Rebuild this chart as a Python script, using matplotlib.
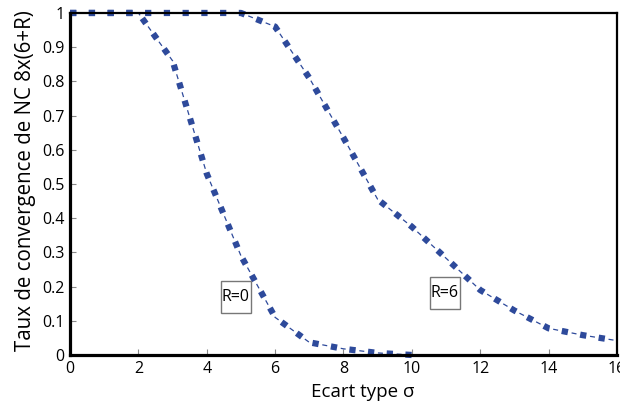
import matplotlib
matplotlib.use("Agg")
import matplotlib.pyplot as plt
from matplotlib.patches import Rectangle

plt.rcParams['font.family'] = ['Open Sans', 'DejaVu Sans']
plt.rcParams['lines.scale_dashes'] = False

sigma_r0 = [0, 1, 2, 3, 4, 5, 6, 7, 8, 9, 10]
rate_r0 = [1.0, 1.0, 1.0, 0.86, 0.53, 0.29, 0.11, 0.037, 0.018, 0.006, 0.0]
sigma_r6 = [0, 1, 2, 3, 4, 5, 6, 7, 8, 9, 10, 11, 12, 13, 14, 15, 16]
rate_r6 = [1.0, 1.0, 1.0, 1.0, 1.0, 1.0, 0.96, 0.81, 0.635, 0.455, 0.375,
           0.283, 0.19, 0.13, 0.078, 0.058, 0.042]
labels = ["R=0", "R=6"]
label_pos = [(4.85, 0.17), (10.96, 0.18)]

xticks = [0, 2, 4, 6, 8, 10, 12, 14, 16]
yticks = [0, 0.1, 0.2, 0.3, 0.4, 0.5, 0.6, 0.7, 0.8, 0.9, 1]
yticklabels = ["0", "0.1", "0.2", "0.3", "0.4", "0.5", "0.6", "0.7", "0.8", "0.9", "1"]

color = "#2E4A9B"
fig = plt.figure(figsize=(6.2, 4.05), dpi=100)
ax = fig.add_axes([0.113, 0.1235, 0.882, 0.8445])

for xs, ys in [(sigma_r0, rate_r0), (sigma_r6, rate_r6)]:
    ax.plot(xs, ys, color=color, lw=4.5, linestyle=(0, (4.5, 9.0)),
            dash_capstyle='butt', solid_joinstyle='miter', clip_on=False)
    ax.plot(xs, ys, color=color, lw=0.9, linestyle=(6.3, (3.6, 9.9)),
            dash_capstyle='butt', clip_on=False)

for txt, (x, y) in zip(labels, label_pos):
    ax.add_patch(Rectangle((x - 0.44, y - 0.047), 0.88, 0.094, fill=False,
                           edgecolor="#777777", lw=1.0, zorder=3))
    ax.text(x, y, txt, ha='center', va='center', fontsize=11.5, zorder=4)

ax.set_xlim(0, 16)
ax.set_ylim(0, 1)
ax.set_xticks(xticks)
ax.set_xticklabels([str(t) for t in xticks])
ax.set_yticks(yticks)
ax.set_yticklabels(yticklabels)
ax.tick_params(direction='in', length=4, width=0.8, color="#888888",
               labelsize=11.5, pad=4)
for s in ['left', 'bottom']:
    ax.spines[s].set_linewidth(2.3)
for s in ['top', 'right']:
    ax.spines[s].set_linewidth(1.6)

ax.set_xlabel("Ecart type σ", fontsize=13.5)
ax.xaxis.set_label_coords(0.535, -0.082, transform=ax.transAxes)
ax.xaxis.label.set_va('top')
ax.set_ylabel("Taux de convergence de NC 8x(6+R)", fontsize=14.8)
ax.yaxis.set_label_coords(-0.062, 0.51, transform=ax.transAxes)

fig.savefig("out.png", dpi=100)
